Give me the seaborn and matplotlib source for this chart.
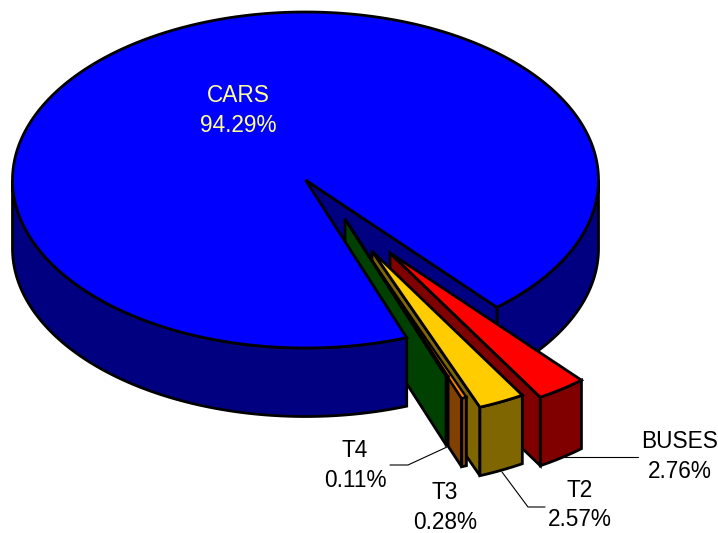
import numpy as np
import matplotlib
matplotlib.use("Agg")
import matplotlib.pyplot as plt
from matplotlib.colors import to_rgb
import seaborn as sns

# Vehicle share of the traffic mix
categories = ["BUSES", "T2", "T3", "T4", "CARS"]
shares = [2.76, 2.57, 0.28, 0.11, 94.29]
top_colors = ["#FF0000", "#FFCC00", "#FF8000", "#008000", "#0000FF"]

# Layout of the tilted disc, in figure pixels
CENTER = (305.5, 180.0)
RX, RY = 293.0, 168.0
DEPTH = 68.5
START_DEG = 40.8
# How far each slice is pulled out of the disc
pull_x = [84.5, 66.5, 53, 39.5, 0]
pull_y = [73, 71, 61, 39, 0]
LW = 2.0

sns.set_theme(style="white")
plt.rcParams["font.family"] = ["Liberation Sans", "DejaVu Sans"]
palette = sns.color_palette(top_colors)
wall_colors = [tuple(c * 0.5 for c in to_rgb(col)) for col in palette]

fig = plt.figure(figsize=(7.18, 5.33), dpi=100)
ax = fig.add_axes([0, 0, 1, 1])
ax.set_xlim(0, 718)
ax.set_ylim(533, 0)
ax.axis("off")


def rim(theta_from, theta_to, ox=0.0, oy=0.0):
    """Points along the rim; theta is measured from straight down, towards the right."""
    steps = max(2, int(abs(theta_to - theta_from) * 2) + 2)
    t = np.radians(np.linspace(theta_from, theta_to, steps))
    return np.column_stack((CENTER[0] + ox + RX * np.sin(t), CENTER[1] + oy + RY * np.cos(t)))


def face(points, color, z, lw=LW):
    ax.fill(points[:, 0], points[:, 1], facecolor=color, edgecolor="black",
            linewidth=lw, joinstyle="miter", zorder=z)


def drop(points):
    return points + np.array([0.0, DEPTH])


def curved_wall(theta_from, theta_to, ox, oy, color, z, lw=LW):
    upper = rim(theta_from, theta_to, ox, oy)
    face(np.vstack((upper, drop(upper)[::-1])), color, z, lw)


# Cut the angles from the shares, going clockwise from the starting edge
edges = START_DEG - np.cumsum([0.0] + [s * 3.6 for s in shares])

# Far parts of the big slice sit behind everything
cars = categories.index("CARS")
hi, lo = edges[cars], edges[cars + 1]
apex = np.array([CENTER])
curved_wall(90, START_DEG, 0, 0, wall_colors[cars], 1)
notch = np.vstack((apex, rim(START_DEG, START_DEG)[:1]))
face(np.vstack((notch, drop(notch)[::-1])), wall_colors[cars], 1)

# Pulled-out slices, back to front
for i in range(len(categories) - 1):
    high, low = edges[i], edges[i + 1]
    ox, oy = pull_x[i], pull_y[i]
    tip = np.array([[CENTER[0] + ox, CENTER[1] + oy]])
    z = 2 + i
    arc = rim(high, low, ox, oy)
    side = np.vstack((tip, arc[-1:]))
    face(np.vstack((side, drop(side)[::-1])), wall_colors[i], z)
    curved_wall(high, low, ox, oy, wall_colors[i], z)
    face(np.vstack((tip, arc)), palette[i], z, lw=LW * 0.85 if shares[i] < 1 else LW)

# Near wall and top of the big slice
curved_wall(hi, -90, 0, 0, wall_colors[cars], 10)
face(np.vstack((apex, rim(hi, lo))), palette[cars], 11)

# Data labels
label_pos = {"CARS": (238, 110.5), "BUSES": (680, 456.5), "T2": (580, 505), "T3": (445, 507.5), "T4": (355, 465.5)}
for name, share in zip(categories, shares):
    x, y = label_pos[name]
    ax.text(x, y, f"{name}\n{share:.2f}%", ha="center", va="center", fontsize=16.3,
            linespacing=1.36, color="#FFFF99" if name == "CARS" else "black", zorder=20)

# Leader lines
leaders = {
    "T4": ([447, 408, 390], [447, 465, 465]),
    "T2": ([502, 528, 545], [472, 507, 507]),
    "BUSES": ([563, 638], [457, 457]),
}
for xs, ys in leaders.values():
    ax.plot(xs, ys, color="black", linewidth=0.8, zorder=1.5, solid_joinstyle="miter")

fig.savefig("out.png", dpi=100, facecolor="white")
